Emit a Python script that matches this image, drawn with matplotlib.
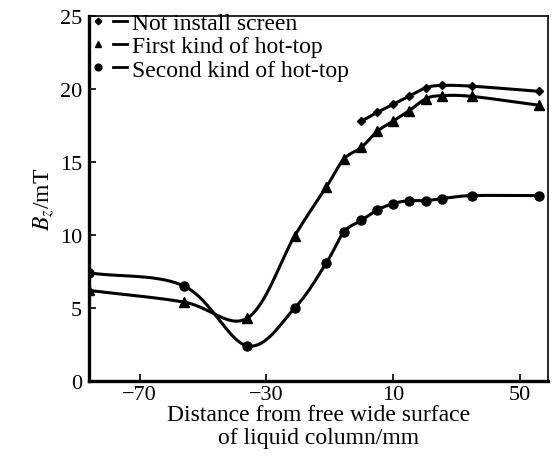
# Bz vs distance from free wide surface of liquid column
import numpy as np
import matplotlib
matplotlib.use("Agg")
import matplotlib.pyplot as plt
from matplotlib.lines import Line2D
from matplotlib.legend_handler import HandlerTuple

# Data
x_not = [0, 5, 10, 15, 20.5, 25.5, 35, 56]
y_not = [17.8, 18.4, 18.95, 19.5, 20.1, 20.25, 20.2, 19.85]

x_first = [-86, -56, -36, -21, -11, -5.5, 0, 5, 10, 15, 20.5, 25.5, 35, 56]
y_first = [6.2, 5.4, 4.3, 9.95, 13.3, 15.2, 16.0, 17.1, 17.8, 18.5, 19.35, 19.55, 19.5, 18.9]

x_second = [-86, -56, -36, -21, -11, -5.5, 0, 5, 10, 15, 20.5, 25.5, 35, 56]
y_second = [7.4, 6.5, 2.4, 5.0, 8.1, 10.2, 11.0, 11.7, 12.15, 12.35, 12.35, 12.5, 12.7, 12.7]

labels = ["Not install screen", "First kind of hot-top", "Second kind of hot-top"]


def smooth(x, y, n=20):
    # Catmull-Rom curve through the points (only for drawing the line)
    x = np.asarray(x, float)
    y = np.asarray(y, float)
    px = np.concatenate([[2 * x[0] - x[1]], x, [2 * x[-1] - x[-2]]])
    py = np.concatenate([[2 * y[0] - y[1]], y, [2 * y[-1] - y[-2]]])
    t = np.linspace(0, 1, n)
    xs, ys = [], []
    for i in range(1, len(px) - 2):
        for p, out in ((px, xs), (py, ys)):
            p0, p1, p2, p3 = p[i - 1], p[i], p[i + 1], p[i + 2]
            out.append(0.5 * ((2 * p1) + (-p0 + p2) * t
                              + (2 * p0 - 5 * p1 + 4 * p2 - p3) * t ** 2
                              + (-p0 + 3 * p1 - 3 * p2 + p3) * t ** 3))
    return np.concatenate(xs), np.concatenate(ys)


plt.rcParams['font.family'] = ['Liberation Serif', 'DejaVu Serif']
plt.rcParams['mathtext.fontset'] = 'stix'

fig = plt.figure(figsize=(5.53, 4.64), dpi=100)
ax = fig.add_axes([0.161, 0.177, 0.83, 0.786])

series = [(x_not, y_not, 'D', 4.5), (x_first, y_first, '^', 6.5), (x_second, y_second, 'o', 6.5)]
handles = []
for (xs, ys, m, ms), lab in zip(series, labels):
    sx, sy = smooth(xs, ys)
    ax.plot(sx, sy, color='k', lw=2.2)
    ax.plot(xs, ys, ls='none', marker=m, ms=ms, color='k')
    handles.append((Line2D([], [], ls='none', marker=m, ms=ms * 0.75, color='k'),
                    Line2D([], [], color='k', lw=2)))

ax.set_xlim(-86, 59)
ax.set_ylim(0, 25)
ax.set_xticks([-70, -30, 10, 50])
ax.set_yticks([0, 5, 10, 15, 20, 25])
ax.tick_params(direction='in', length=5, width=1.2, labelsize=16, pad=5)
ax.tick_params(axis='x', pad=3)
for side in ['left', 'bottom']:
    ax.spines[side].set_linewidth(2.4)
for side in ['top', 'right']:
    ax.spines[side].set_linewidth(1.2)

ax.set_xlabel("Distance from free wide surface\nof liquid column/mm", fontsize=17, linespacing=1.1, labelpad=0)
ax.set_ylabel(r"$B_z$/mT", fontsize=17, labelpad=2)

ax.legend(handles, labels, handler_map={tuple: HandlerTuple(ndivide=None, pad=0.3)},
          loc='upper left', frameon=False, fontsize=17, handlelength=1.5,
          handletextpad=0.2, labelspacing=0.07, borderaxespad=0, borderpad=0.1,
          bbox_to_anchor=(0.0, 1.016))

fig.savefig("out.png", dpi=100)
